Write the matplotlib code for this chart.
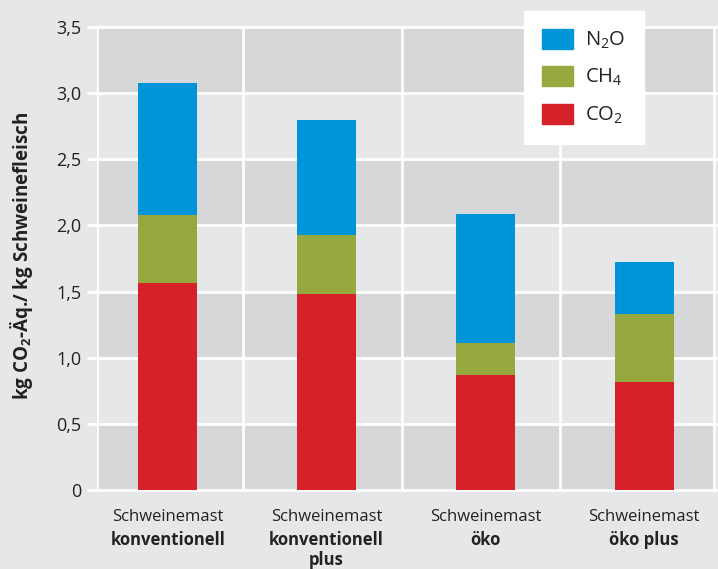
import matplotlib
matplotlib.use("Agg")
import matplotlib.pyplot as plt
from matplotlib.patches import Patch

FONT = "Open Sans"
plt.rcParams['font.family'] = [FONT, 'DejaVu Sans']
plt.rcParams['mathtext.fontset'] = 'custom'
plt.rcParams['mathtext.rm'] = FONT
plt.rcParams['mathtext.bf'] = FONT + ':bold'

# Emissions per kg pork, stacked by gas (kg CO2-eq.)
categories = ["konventionell", "konventionell\nplus", "öko", "öko plus"]
co2 = [1.565, 1.48, 0.87, 0.82]
ch4 = [0.515, 0.45, 0.24, 0.51]
n2o = [1.00, 0.87, 0.98, 0.39]
y_ticks = [0, 0.5, 1.0, 1.5, 2.0, 2.5, 3.0, 3.5]
y_tick_labels = ["0", "0,5", "1,0", "1,5", "2,0", "2,5", "3,0", "3,5"]

c_co2 = "#d4212a"
c_ch4 = "#95a93e"
c_n2o = "#0095d9"
bg = "#e6e7e9"
band = "#d6d7d9"
ink = "#222222"

fig = plt.figure(figsize=(7.18, 5.69), dpi=100, facecolor=bg)
ax = fig.add_axes([97 / 718, 1 - 490 / 569, (716 - 97) / 718, (490 - 27) / 569])
ax.set_facecolor(bg)

x = list(range(len(categories)))
ax.set_xlim(-0.447, 3.453)
ax.set_ylim(0, 3.5)

# alternating horizontal bands
for i in range(0, 7, 2):
    ax.axhspan(i * 0.5, i * 0.5 + 0.5, color=band, lw=0, zorder=0)

# white grid and separators
for t in y_ticks:
    ax.axhline(t, color="white", lw=2, zorder=1, clip_on=False)
for sx in [-0.447, 0.473, 1.473, 2.473, 3.443]:
    ax.axvline(sx, color="white", lw=2, zorder=1)

w = 0.372
ax.bar(x, co2, width=w, color=c_co2, zorder=3)
ax.bar(x, ch4, width=w, bottom=co2, color=c_ch4, zorder=3)
b3 = [a + b for a, b in zip(co2, ch4)]
ax.bar(x, n2o, width=w, bottom=b3, color=c_n2o, zorder=3)

for s in ax.spines.values():
    s.set_visible(False)
ax.set_yticks(y_ticks)
ax.set_yticklabels(y_tick_labels, fontsize=13, color=ink)
ax.tick_params(axis="y", length=7, width=2, color="white", pad=4)
ax.set_xticks([])

fig.text(22 / 718, 1 - 256 / 569, r"kg CO$_\mathbf{2}$-Äq./ kg Schweinefleisch",
         rotation=90, ha="center", va="center", fontsize=13.5,
         fontweight="bold", color=ink)

# two-part category labels
for xi, cat in zip(x, categories):
    ax.annotate("Schweinemast", xy=(xi, 0), xycoords=("data", "axes fraction"),
                xytext=(0, -27), textcoords="offset pixels", ha="center",
                va="center", fontsize=12, color=ink)
    for j, line in enumerate(cat.split("\n")):
        ax.annotate(line, xy=(xi, 0), xycoords=("data", "axes fraction"),
                    xytext=(0, -50 - 20 * j), textcoords="offset pixels",
                    ha="center", va="center", fontsize=12,
                    fontweight="bold", color=ink)

handles = [Patch(color=c_n2o), Patch(color=c_ch4), Patch(color=c_co2)]
labels = [r"N$_\mathregular{2}$O", r"CH$_\mathregular{4}$", r"CO$_\mathregular{2}$"]
leg = fig.legend(handles, labels, loc="upper left",
                 bbox_to_anchor=(524 / 718, 1 - 11 / 569), borderaxespad=0,
                 frameon=True, fancybox=False, fontsize=14.5,
                 handlelength=1.55, handleheight=1.15, labelspacing=0.75,
                 handletextpad=0.6, borderpad=0.9)
leg.get_frame().set_facecolor("white")
leg.get_frame().set_edgecolor("white")
leg.get_frame().set_alpha(1)
for t in leg.get_texts():
    t.set_color(ink)

fig.savefig("out.png", dpi=100, facecolor=bg)
